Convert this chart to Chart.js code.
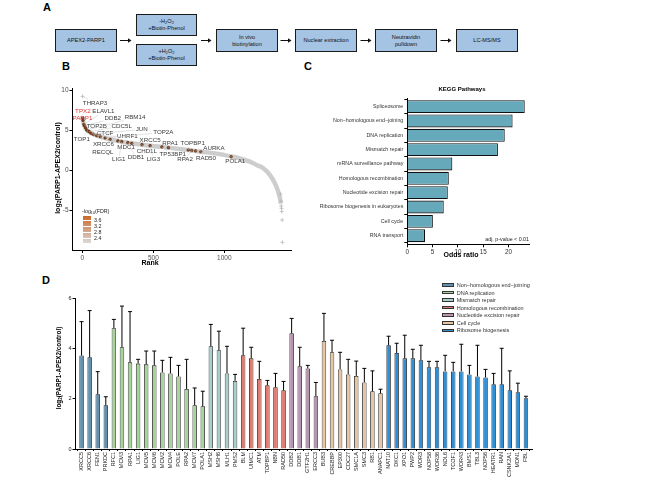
<!DOCTYPE html>
<html><head><meta charset="utf-8">
<script src="https://cdn.jsdelivr.net/npm/chart.js@4.4.1/dist/chart.umd.min.js"></script>
<style>
html,body{margin:0;padding:0;background:#fff}
body{width:648px;height:486px;position:relative;overflow:hidden;font-family:"Liberation Sans",Arial,Helvetica,sans-serif;color:#000}
.a{position:absolute}
.pl{position:absolute;font-weight:bold;font-size:11px;line-height:11px}
.box{position:absolute;background:#a5c3e3;border:1px solid #1a1a1a;box-sizing:border-box;display:flex;align-items:center;justify-content:center;text-align:center;font-size:5.6px;line-height:7px;color:#111}
sub{font-size:70%;vertical-align:-1px;line-height:0}
.c{position:absolute;transform:translate(-50%,-50%);white-space:nowrap}
.rot{position:absolute;transform:translate(-50%,-50%) rotate(-90deg);white-space:nowrap;font-weight:bold}
canvas{position:absolute}
.lg{position:absolute;font-size:5.5px;color:#333;white-space:nowrap;line-height:6px}
.sw{position:absolute;width:11.5px;height:3.5px;border:0.8px solid #333;box-sizing:border-box}
</style></head><body>

<!-- Panel A -->
<div class="pl" style="left:43px;top:2px">A</div>
<div class="box" style="left:55px;top:29px;width:62px;height:23px"><span>APEX2-PARP1</span></div>
<div class="box" style="left:136px;top:14px;width:61px;height:22px"><span>-H<sub>2</sub>O<sub>2</sub><br>+Biotin-Phenol</span></div>
<div class="box" style="left:136px;top:44px;width:61px;height:22px"><span>+H<sub>2</sub>O<sub>2</sub><br>+Biotin-Phenol</span></div>
<div class="box" style="left:216px;top:29px;width:62px;height:23px"><span>In vivo<br>biotinylation</span></div>
<div class="box" style="left:295px;top:29px;width:62px;height:23px"><span>Nuclear extraction</span></div>
<div class="box" style="left:375px;top:29px;width:62px;height:23px"><span>Neutravidin<br>pulldown</span></div>
<div class="box" style="left:456px;top:29px;width:62px;height:23px"><span>LC-MS/MS</span></div>
<svg class="a" style="left:0;top:0" width="648" height="70" id="arrows"></svg>

<!-- Panel labels -->
<div class="pl" style="left:62px;top:61px">B</div>
<div class="pl" style="left:304px;top:61px">C</div>
<div class="pl" style="left:42px;top:275px">D</div>

<canvas id="cB" width="300" height="210" style="left:0;top:60px"></canvas>
<canvas id="cC" width="240" height="200" style="left:300px;top:60px"></canvas>
<canvas id="cD" width="648" height="216" style="left:0;top:270px"></canvas>

<!-- axis titles -->
<div class="rot" style="left:57px;top:168px;font-size:7px">log<sub>2</sub>(PARP1-APEX2/control)</div>
<div class="c" style="left:150px;top:262px;font-size:7px;font-weight:bold">Rank</div>
<div class="c" style="left:462px;top:89px;font-size:6px;font-weight:bold">KEGG Pathways</div>
<div class="c" style="left:461px;top:254px;font-size:7px;font-weight:bold">Odds ratio</div>
<div class="a" style="right:119px;top:236px;font-size:5.3px;color:#222;white-space:nowrap">adj. p-value &lt; 0.01</div>
<div class="rot" style="left:58px;top:368px;font-size:6.3px">log<sub>2</sub>(PARP1-APEX2/control)</div>

<!-- B colour legend -->
<div class="a" id="legB" style="left:82px;top:208px;font-size:5.3px;color:#222;white-space:nowrap"></div>
<div class="a" id="legD"></div>

<script>
// ---------- DATA ----------
// Panel B: ranked enrichment curve (read at sampled ranks)
const curveRank = [1,5,12,20,31,47,77,125,195,277,348,477,606,746,834,946,1048,1120,1180,1228,1275,1322,1357,1380,1392,1399];
const curveVal  = [6.6,6.1,5.6,5.3,5.0,4.8,4.46,4.16,3.84,3.54,3.34,3.04,2.79,2.5,2.29,2.05,1.7,1.4,1.05,0.63,0.21,-0.63,-1.67,-2.7,-3.5,-4.2];
// isolated grey points
const grayRank = [1,1396,1399,1401,1403,1405,1408,1409];
const grayVal  = [9.2,-3.0,-3.9,-4.5,-4.8,-5.2,-6.25,-9.04];
// labelled genes
const geneNames = ['THRAP3','TPX2','PARP1','ELAVL1','DDB2','TOP2B','RBM14','TOP1','CDC5L','CTCF','JUN','UHRF1','XRCC6','TOP2A','RECQL','MDC1','LIG1','DDB1','XRCC5','CHD1L','LIG3','TP53BP1','RPA1','TOPBP1','RPA2','AURKA','RAD50','POLA1'];
const geneRank  = [1,2,4,10,15,22,30,38,47,60,77,100,125,160,195,250,277,320,348,420,477,560,606,746,770,798,834,1048];
const geneVal   = [9.2,6.5,6.2,5.7,5.5,5.25,5.0,4.9,4.8,4.6,4.46,4.3,4.16,4.0,3.84,3.63,3.54,3.42,3.34,3.17,3.04,2.88,2.79,2.5,2.44,2.38,2.29,1.66];
const geneFDR   = [2.3,3.7,3.8,3.6,3.6,3.5,3.6,3.5,3.6,3.6,3.4,3.5,3.6,3.5,3.4,3.5,3.6,3.5,3.6,3.4,3.5,3.4,3.6,3.4,3.4,3.4,3.4,3.3];
const geneRed   = ['TPX2','PARP1'];
const xTicksB = [0,500,1000];
const yTicksB = [-5,0,5,10];
const fdrTicks = [3.6,3.2,2.8,2.4];
// label anchor positions (layout, data units)
const labelRank = [89,3,148,0,214,101,371,-4,277,160,418,317,148,570,144,308,256,378,477,454,500,637,618,777,723,927,871,1077];
const labelVal  = [8.4,7.4,7.3,6.46,6.46,5.5,6.54,3.88,5.5,4.59,5.09,4.16,3.25,4.71,2.16,2.79,1.34,1.54,3.75,2.38,1.34,2.0,3.34,3.34,1.34,2.71,1.46,1.13];
const labelOrder = ['THRAP3','TPX2','ELAVL1','PARP1','DDB2','TOP2B','RBM14','TOP1','CDC5L','CTCF','JUN','UHRF1','XRCC6','TOP2A','RECQL','MDC1','LIG1','DDB1','XRCC5','CHD1L','LIG3','TP53BP1','RPA1','TOPBP1','RPA2','AURKA','RAD50','POLA1'];

// Panel C: KEGG pathways
const keggNames = ['Spliceosome','Non\u2212homologous end\u2212joining','DNA replication','Mismatch repair','mRNA surveillance pathway','Homologous recombination','Nucleotide excision repair','Ribosome biogenesis in eukaryotes','Cell cycle','RNA transport'];
const keggOdds  = [23.2,20.8,19.25,17.9,8.9,8.2,8.0,7.2,5.05,3.5];
const xTicksC = [0,5,10,15,20];

// Panel D
const dNames = ['XRCC5','XRCC6','FEN1','PRKDC','RFC1','MCM3','RPA1','LIG1','MCM5','MCM6','MCM2','MCM4','POLE','RPA2','MCM7','POLA1','MSH2','MSH6','MLH1','PMS2','BLM','UIMC1','ATM','TOPBP1','NBN','RAD50','DDB2','DDB1','GTF2H1','ERCC3','BUB3','CREBBP','EP300','CDC27','SMC1A','SMC3','RB1','ANAPC1','NAT10','DKC1','XPO1','PWP2','WDR3','NOP58','WDR36','NOL6','TCOF1','WDR43','BMS1','TBL3','NOP56','HEATR1','RAN','CSNK2A1','MDN1','FBL'];
const dVal = [3.72,3.65,2.18,1.74,4.81,4.05,3.45,3.40,3.37,3.33,3.05,3.01,2.89,2.39,1.74,1.70,4.09,3.93,3.01,2.71,3.73,3.61,2.79,2.54,2.46,2.34,4.61,3.29,3.21,2.10,4.30,3.85,3.17,2.97,2.91,2.65,2.30,2.22,4.13,3.82,3.61,3.61,3.53,3.25,3.25,3.09,3.09,3.09,2.97,2.89,2.85,2.58,2.58,2.34,2.26,2.02];
const dErrTop = [5.07,5.51,3.08,2.08,5.16,5.69,5.47,3.57,3.90,3.90,3.53,3.65,3.33,3.57,2.43,2.30,4.96,4.69,4.09,2.97,4.81,4.05,3.49,2.73,3.01,2.69,5.20,4.05,3.33,2.65,5.40,4.33,3.85,3.57,3.50,3.21,3.11,2.38,4.49,4.21,4.53,3.97,4.13,3.49,3.49,3.73,3.45,4.17,3.33,4.13,3.17,3.01,4.01,3.11,2.62,2.10];
const groupNames = ['Non\u2212homologous end\u2212joining','DNA replication','Mismatch repair','Homologous recombination','Nucleotide excision repair','Cell cycle','Ribosome biogenesis'];
const groupSizes = [4,12,4,6,4,8,18];
const yTicksD = [0,2,4,6];

// ---------- STYLE ----------
const groupColors = ['#6190b0','#a8d49a','#a8cfcc','#e07b70','#b995b0','#e6c5a3','#2d8fd8'];
const F = '"Liberation Sans", Arial, sans-serif';
Chart.defaults.font.family = F;

// Panel A arrows
(function(){
  const svg = document.getElementById('arrows');
  const arr = [[120,131.5],[201,211.5],[280.5,291.5],[360.5,371.5],[440.5,451.5]];
  let s='';
  arr.forEach(([a,b])=>{
    s += `<line x1="${a}" y1="40.5" x2="${b-3}" y2="40.5" stroke="#111" stroke-width="1"/>`;
    s += `<polygon points="${b-3.5},38.3 ${b},40.5 ${b-3.5},42.7" fill="#111"/>`;
  });
  svg.innerHTML = s;
})();

function fdrColor(f){
  const t = Math.max(0,Math.min(1,(f-2.4)/1.2));
  const c0=[217,217,217], c1=[200,104,40];
  const c = c0.map((v,i)=>Math.round(v+(c1[i]-v)*t));
  return `rgb(${c[0]},${c[1]},${c[2]})`;
}
function dotColor(f){
  const t = Math.max(0,Math.min(1,(f-2.4)/1.2));
  const c0=[190,150,120], c1=[130,62,22];
  const c = c0.map((v,i)=>Math.round(v+(c1[i]-v)*t));
  return `rgb(${c[0]},${c[1]},${c[2]})`;
}

// B legend
(function(){
  const el = document.getElementById('legB');
  let h = `<div style="position:absolute;left:0;top:0">-log<sub>10</sub>(FDR)</div>`;
  h += `<div style="position:absolute;left:1px;top:8px;width:8px;height:27px;background:linear-gradient(to bottom, ${fdrColor(3.8)}, ${fdrColor(2.35)})"></div>`;
  fdrTicks.forEach((v,i)=>{
    const y = 11.5 + i*6.3;
    h += `<div style="position:absolute;left:1px;top:${y}px;width:8px;height:0.6px;background:#fff"></div>`;
    h += `<div style="position:absolute;left:12px;top:${y-3}px">${v.toFixed(1)}</div>`;
  });
  el.innerHTML = h;
})();

// D legend
(function(){
  const el = document.getElementById('legD');
  let h='';
  groupNames.forEach((n,i)=>{
    const y = 285 + i*7.55;
    h += `<div class="sw" style="left:442.3px;top:${y-1.75}px;background:${groupColors[i]}"></div>`;
    h += `<div class="lg" style="left:456.7px;top:${y-3}px">${n}</div>`;
  });
  el.innerHTML = h;
})();

const axisCommon = (size,color)=>({
  grid:{display:true,drawOnChartArea:false,drawTicks:true,color:'#000',tickLength:3,lineWidth:1},
  border:{display:true,color:'#000',width:1},
  ticks:{font:{size:size,family:F},color:color,padding:1,callback:v=>String(v)}
});

// ---------- PANEL B ----------
const labelPlugin = {
  id:'geneLabels',
  afterDatasetsDraw(chart){
    const ctx = chart.ctx, xs = chart.scales.x, ys = chart.scales.y;
    ctx.save();
    ctx.font = `6.2px ${F}`;
    ctx.textAlign='center'; ctx.textBaseline='middle';
    labelOrder.forEach((name,k)=>{
      const gi = geneNames.indexOf(name);
      const px = xs.getPixelForValue(geneRank[gi]), py = ys.getPixelForValue(geneVal[gi]);
      const lx = xs.getPixelForValue(labelRank[k]), ly = ys.getPixelForValue(labelVal[k]);
      const w = ctx.measureText(name).width/2+1, h = 3.6;
      const dx = px-lx, dy = py-ly;
      if (Math.abs(dx)>w || Math.abs(dy)>h){
        const t = Math.min(Math.abs(dx)>0? w/Math.abs(dx):1e9, Math.abs(dy)>0? h/Math.abs(dy):1e9);
        ctx.strokeStyle='#c4c4c4'; ctx.lineWidth=0.5;
        ctx.beginPath(); ctx.moveTo(lx+dx*t, ly+dy*t); ctx.lineTo(px,py); ctx.stroke();
      }
      ctx.fillStyle = geneRed.includes(name) ? '#e4312b' : '#3a3a3a';
      ctx.fillText(name, lx, ly);
    });
    ctx.restore();
  }
};

const sig = geneNames.map((n,i)=>i).filter(i=>geneNames[i]!=='THRAP3');
new Chart(document.getElementById('cB'),{
  type:'scatter',
  data:{datasets:[
    {type:'line', data:curveRank.map((r,i)=>({x:r,y:curveVal[i]})), borderColor:'#cdcdcd', borderWidth:4.5, pointRadius:0, cubicInterpolationMode:'monotone', fill:false, order:3},
    {data:grayRank.map((r,i)=>({x:r,y:grayVal[i]})), pointStyle:'cross', pointRadius:2, borderColor:'#b8b8b8', borderWidth:0.8, order:2},
    {data:sig.map(i=>({x:geneRank[i],y:geneVal[i]})), pointRadius:1.35, backgroundColor:sig.map(i=>dotColor(geneFDR[i])), borderColor:'#4a230a', borderWidth:0.5, order:1}
  ]},
  options:{
    responsive:false, animation:false, events:[],
    layout:{padding:{top:28,right:8.3,left:0,bottom:0}},
    plugins:{legend:{display:false},tooltip:{enabled:false}},
    scales:{
      x:{type:'linear',min:-70,max:1475,...axisCommon(6.5,'#4d4d4d'),
         afterBuildTicks:s=>{s.ticks=xTicksB.map(v=>({value:v}));},
         afterFit:s=>{s.height=20;}},
      y:{type:'linear',min:-10,max:10.25,...axisCommon(6.5,'#4d4d4d'),
         afterBuildTicks:s=>{s.ticks=yTicksB.map(v=>({value:v}));},
         afterFit:s=>{s.width=72.5;}}
    }
  },
  plugins:[labelPlugin]
});

// ---------- PANEL C ----------
const cAxisY = axisCommon(5.3,'#333');
cAxisY.ticks.callback = v=>keggNames[Math.round(v)-1];
cAxisY.ticks.autoSkip=false;
new Chart(document.getElementById('cC'),{
  type:'bar',
  data:{datasets:[{data:keggOdds.map((v,i)=>({x:v,y:i+1})), backgroundColor:'#66a9bb', borderColor:'#111', borderWidth:1.1, barPercentage:0.9, categoryPercentage:1}]},
  options:{
    indexAxis:'y', responsive:false, animation:false, events:[],
    layout:{padding:{top:38,right:10.7,left:0,bottom:0}},
    plugins:{legend:{display:false},tooltip:{enabled:false}},
    scales:{
      x:{type:'linear',min:0,max:24.1,offset:false,...axisCommon(6.3,'#333'),
         afterBuildTicks:s=>{s.ticks=xTicksC.map(v=>({value:v}));},
         afterFit:s=>{s.height=15.7;}},
      y:{type:'linear',min:0.4,max:10.6,reverse:true,offset:false,...cAxisY,
         afterBuildTicks:s=>{s.ticks=keggNames.map((_,i)=>({value:i+1}));},
         afterFit:s=>{s.width=107.3;}}
    }
  }
});

// ---------- PANEL D ----------
const dColors = [];
groupSizes.forEach((n,g)=>{for(let k=0;k<n;k++) dColors.push(groupColors[g]);});
const errPlugin = {
  id:'errbars',
  afterDatasetsDraw(chart){
    const ctx=chart.ctx, ys=chart.scales.y;
    const meta=chart.getDatasetMeta(0);
    ctx.save(); ctx.strokeStyle='#000'; ctx.lineWidth=1;
    meta.data.forEach((bar,i)=>{
      const yt = ys.getPixelForValue(dErrTop[i]);
      ctx.beginPath();
      ctx.moveTo(bar.x, bar.y); ctx.lineTo(bar.x, yt);
      ctx.moveTo(bar.x-2, yt); ctx.lineTo(bar.x+2, yt);
      ctx.stroke();
    });
    ctx.restore();
  }
};
const dAxisX = axisCommon(5.5,'#222');
dAxisX.ticks.callback = v=>dNames[Math.round(v)];
dAxisX.ticks.autoSkip=false; dAxisX.ticks.maxRotation=90; dAxisX.ticks.minRotation=90;
dAxisX.grid.tickLength=2;
new Chart(document.getElementById('cD'),{
  type:'bar',
  data:{datasets:[{data:dVal.map((v,i)=>({x:i,y:v})), backgroundColor:dColors, borderColor:'#111', borderWidth:0.8, barPercentage:0.55, categoryPercentage:1}]},
  options:{
    responsive:false, animation:false, events:[],
    layout:{padding:{top:28.3,right:116,left:0,bottom:0}},
    plugins:{legend:{display:false},tooltip:{enabled:false}},
    scales:{
      x:{type:'linear',min:-0.75,max:55.75,offset:false,...dAxisX,
         afterBuildTicks:s=>{s.ticks=dNames.map((_,i)=>({value:i}));},
         afterFit:s=>{s.height=37;}},
      y:{type:'linear',min:0,max:6,...axisCommon(5.5,'#222'),
         afterBuildTicks:s=>{s.ticks=yTicksD.map(v=>({value:v}));},
         afterFit:s=>{s.width=75.5;}}
    }
  },
  plugins:[errPlugin]
});
</script>
</body></html>
